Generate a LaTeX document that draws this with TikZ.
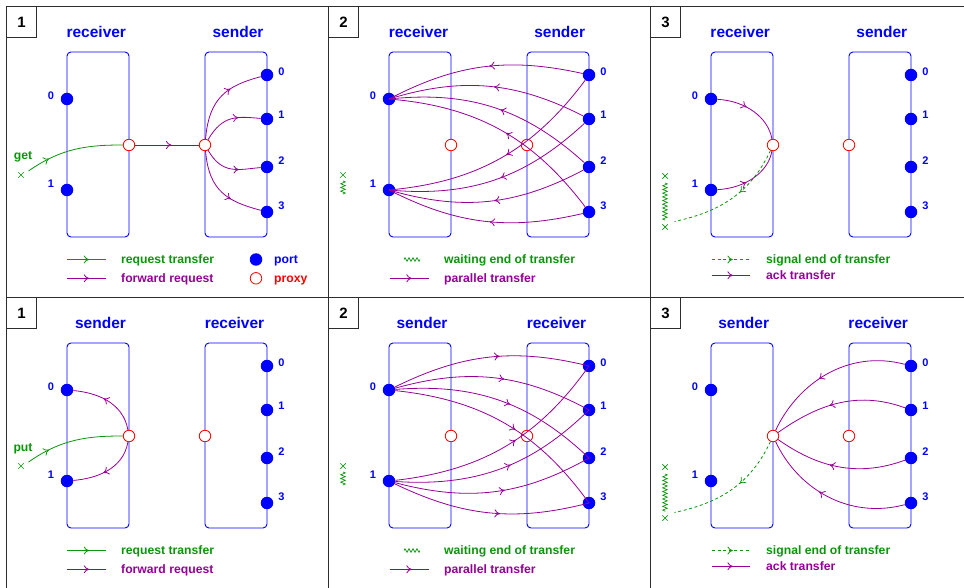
\documentclass[tikz,border=0pt]{standalone}
\usepackage{fontspec}
\setmainfont{Liberation Sans}
\usetikzlibrary{arrows.meta,decorations.markings,decorations.pathmorphing,shapes.misc}
\definecolor{cblue}{RGB}{0,0,255}
\definecolor{cpurp}{RGB}{150,0,150}
\definecolor{cgreen}{RGB}{10,150,10}
\definecolor{cred}{RGB}{255,0,0}
\definecolor{cframe}{RGB}{45,45,45}
\tikzset{
 ttl/.style={font=\bfseries\fontsize{15.5pt}{18pt}\selectfont, text=cblue, inner sep=0pt},
 lbl/.style={font=\bfseries\fontsize{11pt}{13pt}\selectfont, text=cblue, inner sep=0pt},
 leg/.style={font=\bfseries\fontsize{12.2pt}{14pt}\selectfont, inner sep=0pt, anchor=base west},
 numtxt/.style={font=\bfseries\fontsize{15pt}{18pt}\selectfont, inner sep=0pt},
 panelframe/.style={draw=cframe, line width=1.3pt},
 sidebox/.style={draw=cblue, line width=0.9pt, rounded corners=4pt, minimum width=62pt, minimum height=185pt, inner sep=0pt},
 port/.style={circle, fill=cblue, minimum size=12.5pt, inner sep=0pt},
 proxy/.style={circle, draw=cred, fill=white, line width=0.8pt, minimum size=11.5pt, inner sep=0pt},
 midarrow/.style={postaction={decorate}, decoration={markings, mark=at position #1 with {\arrow{To[length=5.5pt,width=8pt]}}}},
 purp/.style={draw=cpurp, line width=0.8pt},
 grn/.style={draw=cgreen, line width=0.8pt},
 gdash/.style={draw=cgreen, line width=0.8pt, dash pattern=on 3pt off 2.6pt},
 zzv/.style={draw=cgreen, line width=0.7pt, decorate, decoration={zigzag, segment length=3.7pt, amplitude=2.3pt}},
 zzh/.style={draw=cgreen, line width=0.7pt, decorate, decoration={zigzag, segment length=4pt, amplitude=1.8pt}},
 xmk/.style={cross out, draw=cgreen, line width=0.7pt, minimum size=4.6pt, inner sep=0pt},
}
\newcommand\panelskel[5]{%
  \draw[panelframe] (-0.5,0.5) rectangle (29.5,-30.3);
  \node[numtxt] (num) at (14.5,-15) {#1};
  \node[ttl] (TL) at (#3,-24.5) {#2};
  \node[ttl] (TR) at (#5,-24.5) {#4};
  \node[sidebox] (BL) at (91,-137.5) {};
  \node[sidebox] (BR) at (229,-137.5) {};
  \node[proxy] (PL) at (122,-138) {};
  \node[proxy] (PR) at (198,-138) {};
  \node[port] (L0) at (60,-92) {};
  \node[port] (L1) at (60,-183) {};
  \node[port] (R0) at (260,-68) {};
  \node[port] (R1) at (260,-112) {};
  \node[port] (R2) at (260,-160) {};
  \node[port] (R3) at (260,-205) {};
  \node[lbl] (nL0) at (44,-88.5) {0};
  \node[lbl] (nL1) at (44,-176.5) {1};
  \node[lbl] (nR0) at (274.5,-65) {0};
  \node[lbl] (nR1) at (274.5,-107.5) {1};
  \node[lbl] (nR2) at (274.5,-153.5) {2};
  \node[lbl] (nR3) at (274.5,-199) {3};
}
\newcommand\legreq{%
  \coordinate (ga) at (60,-252.5); \coordinate (gb) at (99,-252.5);
  \draw[grn, midarrow=0.57] (ga) -- (gb);
  \node[leg, text=cgreen] (tg) at (114,-256.8) {request transfer};
  \coordinate (pa) at (60,-271.3); \coordinate (pb) at (99,-271.3);
  \draw[purp, midarrow=0.57] (pa) -- (pb);
  \node[leg, text=cpurp] (tp) at (114,-275.6) {forward request};
}
\newcommand\legpar{%
  \coordinate (za) at (75,-252.5); \coordinate (zb) at (91,-252.5);
  \draw[zzh] (za) -- (zb);
  \node[leg, text=cgreen] (tg) at (115,-256.8) {waiting end of transfer};
  \coordinate (pa) at (61,-271.3); \coordinate (pb) at (100,-271.3);
  \draw[purp, midarrow=0.56] (pa) -- (pb);
  \node[leg, text=cpurp] (tp) at (115,-275.6) {parallel transfer};
}
\newcommand\legack{%
  \coordinate (ga) at (61,-252.5); \coordinate (gb) at (99,-252.5);
  \draw[gdash, midarrow=0.55] (ga) -- (gb);
  \node[leg, text=cgreen] (tg) at (115,-256.8) {signal end of transfer};
  \coordinate (pa) at (61,-268.3); \coordinate (pb) at (99,-268.3);
  \draw[purp, midarrow=0.55] (pa) -- (pb);
  \node[leg, text=cpurp] (tp) at (115,-272.6) {ack transfer};
}
\newcommand\waitshort{%
  \node[xmk] (X1) at (14,-168) {};
  \coordinate (Za) at (14,-174); \coordinate (Zb) at (14,-187);
  \draw[zzv] (Za) -- (Zb);
}
\newcommand\waitlong{%
  \node[xmk] (X1) at (14,-169) {};
  \coordinate (Za) at (14,-176); \coordinate (Zb) at (14,-213.5);
  \draw[zzv] (Za) -- (Zb);
  \node[xmk] (X2) at (14,-220) {};
  \coordinate (D) at (23.5,-214.5);
  \draw[gdash, midarrow=0.42] (PL) to[out=-115,in=12] (D);
}
\begin{document}
\begin{tikzpicture}[x=1pt,y=1pt]
\useasboundingbox (0,0) rectangle (964,-588);
\draw[panelframe] (6.5,-588) -- (6.5,-6.5) -- (964,-6.5);
\draw[panelframe] (6.5,-297.5) -- (964,-297.5);
\draw[panelframe] (328.3,-6.5) -- (328.3,-588);
\draw[panelframe] (650.3,-6.5) -- (650.3,-588);

% ---------- top 1 ----------
\begin{scope}[shift={(7,-7)}, name prefix=a-]
\panelskel{1}{receiver}{89.3}{sender}{231}
\node[xmk] (X1) at (14,-168) {};
\node[leg, anchor=base, text=cgreen] (get) at (16,-153) {get};
\coordinate (G0) at (21.5,-164);
\draw[grn, midarrow=0.24] (G0) to[out=35,in=180] (PL);
\draw[purp, midarrow=0.57] (PL) -- (PR);
\draw[purp, midarrow=0.64] (PR) to[out=85,in=195,looseness=1.2] (R0);
\draw[purp, midarrow=0.64] (PR) to[out=60,in=175,looseness=1.2] (R1);
\draw[purp, midarrow=0.64] (PR) to[out=-60,in=185,looseness=1.2] (R2);
\draw[purp, midarrow=0.64] (PR) to[out=-85,in=165,looseness=1.2] (R3);
\legreq
\node[port] (lport) at (249,-252.5) {};
\node[leg, text=cblue] (tport) at (267,-256.8) {port};
\node[proxy] (lproxy) at (249,-271.3) {};
\node[leg, text=cred] (tproxy) at (267,-275.6) {proxy};
\end{scope}

% ---------- top 2 ----------
\begin{scope}[shift={(329,-7)}, name prefix=b-]
\panelskel{2}{receiver}{89.5}{sender}{230.7}
\waitshort
\draw[purp, midarrow=0.47] (R0) to[bend right=20] (L0);
\draw[purp, midarrow=0.47] (R1) to[bend right=22] (L0);
\draw[purp, midarrow=0.47] (R2) to[bend right=24] (L0);
\draw[purp, midarrow=0.47] (R3) to[bend right=24] (L0);
\draw[purp, midarrow=0.47] (R0) to[bend left=24] (L1);
\draw[purp, midarrow=0.47] (R1) to[bend left=24] (L1);
\draw[purp, midarrow=0.47] (R2) to[bend left=22] (L1);
\draw[purp, midarrow=0.47] (R3) to[bend left=20] (L1);
\legpar
\end{scope}

% ---------- top 3 ----------
\begin{scope}[shift={(651,-7)}, name prefix=c-]
\panelskel{3}{receiver}{89.2}{sender}{230.8}
\draw[purp, midarrow=0.42] (L0) to[out=-3,in=100] (PL);
\draw[purp, midarrow=0.42] (L1) to[out=3,in=-100] (PL);
\waitlong
\legack
\end{scope}

% ---------- bottom 1 ----------
\begin{scope}[shift={(7,-298)}, name prefix=d-]
\panelskel{1}{sender}{93.5}{receiver}{227.5}
\node[xmk] (X1) at (14,-168) {};
\node[leg, anchor=base, text=cgreen] (put) at (16,-153.5) {put};
\coordinate (G0) at (21.5,-164);
\draw[grn, midarrow=0.24] (G0) to[out=35,in=180] (PL);
\draw[purp, midarrow=0.57] (PL) to[out=100,in=-5] (L0);
\draw[purp, midarrow=0.57] (PL) to[out=-100,in=5] (L1);
\legreq
\end{scope}

% ---------- bottom 2 ----------
\begin{scope}[shift={(329,-298)}, name prefix=e-]
\panelskel{2}{sender}{93}{receiver}{227.5}
\waitshort
\draw[purp, midarrow=0.55] (L0) to[bend left=20] (R0);
\draw[purp, midarrow=0.55] (L0) to[bend left=22] (R1);
\draw[purp, midarrow=0.55] (L0) to[bend left=24] (R2);
\draw[purp, midarrow=0.55] (L0) to[bend left=24] (R3);
\draw[purp, midarrow=0.55] (L1) to[bend right=24] (R0);
\draw[purp, midarrow=0.55] (L1) to[bend right=24] (R1);
\draw[purp, midarrow=0.55] (L1) to[bend right=22] (R2);
\draw[purp, midarrow=0.55] (L1) to[bend right=20] (R3);
\legpar
\end{scope}

% ---------- bottom 3 ----------
\begin{scope}[shift={(651,-298)}, name prefix=f-]
\panelskel{3}{sender}{92.7}{receiver}{227.2}
\draw[purp, midarrow=0.57] (R0) to[out=165,in=65] (PL);
\draw[purp, midarrow=0.57] (R1) to[out=160,in=35] (PL);
\draw[purp, midarrow=0.57] (R2) to[out=200,in=-35] (PL);
\draw[purp, midarrow=0.57] (R3) to[out=195,in=-65] (PL);
\waitlong
\legack
\end{scope}
\end{tikzpicture}
\end{document}
